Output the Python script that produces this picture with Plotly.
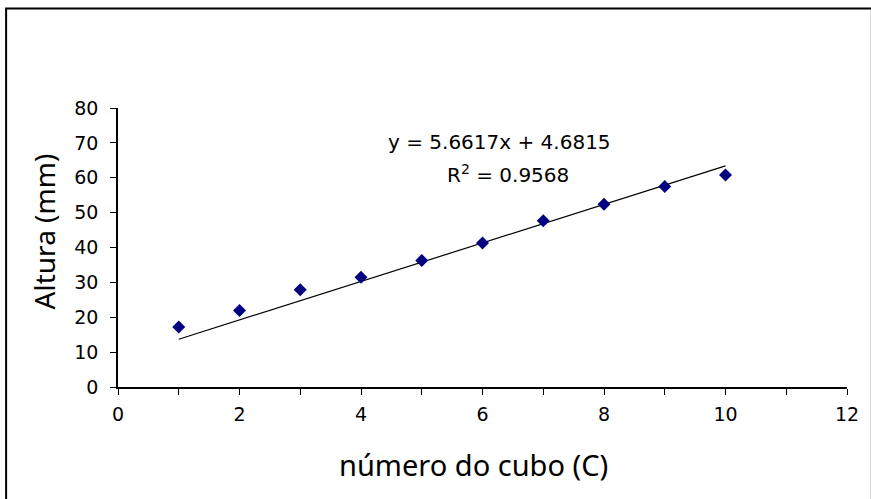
import plotly.graph_objects as go

# Data
cube_number = [1, 2, 3, 4, 5, 6, 7, 8, 9, 10]
height_mm = [17.2, 21.9, 27.9, 31.5, 36.3, 41.3, 47.7, 52.4, 57.5, 60.8]
trend_x = [1, 10]
trend_y = [13.7, 63.4]
equation_text = "y = 5.6617x + 4.6815"
r2_text = "R<sup>2</sup> = 0.9568"
x_title = "número do cubo (C)"
y_title = "Altura (mm)"

W, H = 871, 499
L, R, T, B = 118, 20, 108, 112
pw, ph = W - L - R, H - T - B

def px(xp):
    return (xp - L) / pw

def py(yp):
    return (H - B - yp) / ph

fig = go.Figure()
fig.add_trace(go.Scatter(x=trend_x, y=trend_y, mode="lines",
                         line=dict(color="black", width=1.2), showlegend=False, hoverinfo="skip"))
fig.add_trace(go.Scatter(x=cube_number, y=height_mm, mode="markers",
                         marker=dict(symbol="diamond", size=10, color="#000080"),
                         showlegend=False))

ann_font = dict(family="DejaVu Sans", size=20, color="black")
fig.add_annotation(xref="paper", yref="paper", x=px(502), y=py(141.5), text=equation_text,
                   showarrow=False, font=ann_font, xanchor="center", yanchor="middle")
fig.add_annotation(xref="paper", yref="paper", x=px(510), y=py(174), text=r2_text,
                   showarrow=False, font=ann_font, xanchor="center", yanchor="middle")

# axis titles
fig.add_annotation(xref="paper", yref="paper", x=px(475), y=py(464), text=x_title,
                   showarrow=False, xanchor="center", yanchor="middle",
                   font=dict(family="Noto Sans", size=29, color="black"))
fig.add_annotation(xref="paper", yref="paper", x=px(44), y=py(231), text=y_title,
                   showarrow=False, xanchor="center", yanchor="middle", textangle=-90,
                   font=dict(family="Noto Sans", size=28, color="black"))

# outer chart frame
fig.add_shape(type="rect", xref="paper", yref="paper",
              x0=px(5.5), x1=px(W + 5), y0=py(H + 5), y1=py(8.5),
              line=dict(color="black", width=2))

tick_font = dict(family="DejaVu Sans", size=19, color="black")
fig.update_layout(
    width=W, height=H,
    margin=dict(l=L, r=R, t=T, b=B),
    paper_bgcolor="white", plot_bgcolor="white",
    xaxis=dict(range=[0, 12], tickmode="array", tickvals=[0, 2, 4, 6, 8, 10, 12],
               ticks="outside", ticklen=6, tickcolor="black", ticklabelstandoff=3,
               minor=dict(tickvals=[1, 3, 5, 7, 9, 11], ticks="outside", ticklen=6, tickcolor="black"),
               showline=True, linecolor="black", linewidth=1.5, showgrid=False, zeroline=False,
               tickfont=tick_font),
    yaxis=dict(range=[0, 80], dtick=10, ticks="outside", ticklen=6, tickcolor="black",
               ticklabelstandoff=8,
               showline=True, linecolor="black", linewidth=1.5, showgrid=False, zeroline=False,
               tickfont=tick_font),
)

fig.write_html("out.html")
